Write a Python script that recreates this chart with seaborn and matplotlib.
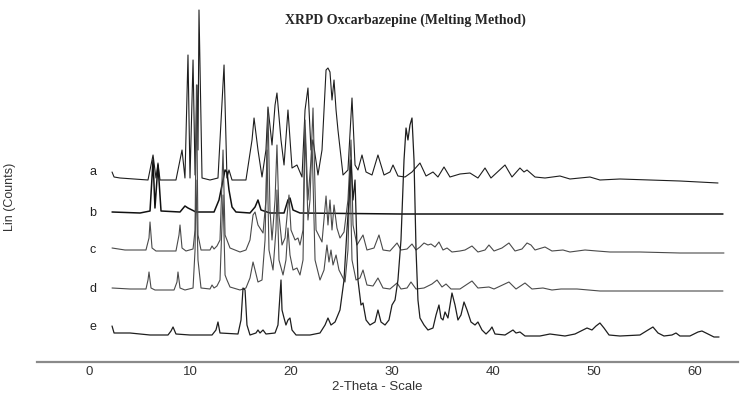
import pandas as pd
import matplotlib.pyplot as plt
import seaborn as sns

OUT_FILE = "out.png"

TITLE = "XRPD Oxcarbazepine (Melting Method)"
X_LABEL = "2-Theta - Scale"
Y_LABEL = "Lin (Counts)"
X_TICKS = [0, 10, 20, 30, 40, 50, 60]
TRACE_NAMES = ["a", "b", "c", "d", "e"]

# (2-theta, stacked counts) vertices, one pair of lists per trace
A_THETA = [2.28, 2.48, 3.07, 5.84, 6.34, 6.63, 6.83, 7.03, 8.61, 9.21, 9.50, 9.80, 10.00, 10.30,
           10.50, 10.69, 10.79, 10.89, 11.19, 11.98, 12.77, 13.37, 13.66, 13.86, 14.16, 15.54,
           16.14, 16.34, 16.73, 17.13, 17.52, 17.72, 18.12, 18.42, 18.61, 19.01, 19.31, 19.70,
           20.10, 20.59, 21.09, 21.39, 21.68, 21.98, 22.18, 22.67, 23.07, 23.47, 23.66, 23.86,
           24.06, 24.26, 24.46, 24.65, 25.15, 25.64, 26.04, 26.34, 26.63, 27.03, 27.43, 28.02,
           28.61, 29.21, 29.80, 30.10, 30.59, 31.29, 31.98, 32.77, 33.37, 34.06, 34.55, 35.15,
           35.74, 36.73, 37.72, 38.51, 39.21, 39.80, 41.19, 41.88, 42.67, 43.07, 43.37, 44.16,
           45.15, 46.63, 47.62, 49.60, 50.59, 52.57, 55.54, 58.51, 62.28]
A_COUNTS = [190, 185, 184, 182, 207, 184, 199, 182, 182, 212, 184, 307, 184, 302,
            187, 277, 212, 352, 184, 182, 184, 297, 184, 192, 182, 182,
            222, 244, 212, 185, 212, 255, 217, 257, 269, 222, 197, 252,
            194, 197, 185, 252, 274, 212, 222, 187, 212, 292, 294, 290,
            262, 282, 252, 232, 187, 192, 264, 197, 192, 207, 190, 187,
            207, 187, 190, 197, 186, 185, 190, 199, 186, 190, 185, 195,
            185, 188, 189, 184, 194, 184, 197, 185, 194, 190, 192, 185,
            184, 186, 183, 185, 182, 183, 182, 181, 179]

B_THETA = [2.28, 5.05, 6.04, 6.34, 6.53, 6.83, 7.13, 9.01, 9.50, 9.80, 10.59, 12.38, 12.87,
           13.17, 13.47, 13.66, 13.86, 14.16, 14.55, 15.94, 16.44, 16.73, 17.03, 17.92,
           19.31, 19.70, 19.90, 20.20, 20.89, 30.79, 40.69, 50.59, 62.77]
B_COUNTS = [150, 149, 151, 202, 154, 197, 151, 150, 156, 154, 150, 150, 162,
            177, 192, 190, 172, 155, 150, 149, 155, 162, 152, 149,
            149, 162, 164, 152, 149, 148, 148, 148, 148]

C_THETA = [2.28, 3.56, 5.64, 5.94, 6.04, 6.24, 6.63, 8.61, 8.91, 9.01, 9.21, 9.60, 10.30,
           10.50, 10.64, 10.79, 11.09, 11.98, 12.18, 12.38, 12.67, 12.97, 13.27, 13.47,
           13.66, 13.96, 14.95, 15.54, 15.94, 16.24, 16.44, 16.73, 17.23, 17.52, 17.72,
           17.92, 18.12, 18.42, 18.61, 18.81, 19.11, 19.41, 19.80, 20.00, 20.40, 20.69,
           20.89, 21.19, 21.39, 21.68, 21.98, 22.18, 22.48, 23.07, 23.47, 23.66, 23.86,
           24.06, 24.26, 24.55, 24.85, 25.25, 25.64, 25.94, 26.14, 26.53, 26.83, 27.13,
           27.52, 28.22, 28.71, 29.11, 29.80, 30.50, 30.89, 31.49, 31.98, 32.38, 32.77,
           33.17, 33.56, 33.86, 34.26, 34.65, 35.05, 35.45, 35.94, 36.73, 37.23, 37.92,
           38.51, 39.21, 39.60, 40.10, 40.89, 41.58, 42.18, 42.87, 43.37, 43.76, 44.16,
           45.15, 45.84, 46.93, 47.62, 49.11, 50.30, 51.58, 54.55, 58.51, 62.87]
C_COUNTS = [114, 112, 112, 124, 140, 114, 111, 111, 127, 137, 114, 111, 113,
            132, 277, 127, 112, 112, 116, 113, 116, 122, 212, 127,
            122, 114, 110, 112, 122, 147, 150, 137, 129, 162, 252,
            152, 122, 162, 217, 147, 117, 124, 167, 132, 122, 124,
            117, 132, 242, 162, 202, 254, 132, 120, 166, 137, 162,
            132, 157, 134, 124, 130, 162, 222, 137, 117, 122, 127,
            112, 114, 127, 112, 111, 119, 112, 113, 118, 112, 115,
            119, 117, 118, 115, 120, 112, 114, 110, 111, 112, 116,
            110, 112, 117, 111, 114, 119, 111, 113, 119, 117, 112,
            115, 111, 112, 110, 112, 111, 110, 110, 109, 109]

D_THETA = [2.28, 4.06, 5.64, 5.84, 5.94, 6.14, 6.53, 8.42, 8.71, 8.81, 9.01, 9.50, 10.30,
           10.50, 10.59, 10.79, 11.09, 11.98, 12.18, 12.38, 12.67, 12.97, 13.27, 13.47,
           13.66, 13.96, 14.95, 15.54, 15.94, 16.24, 16.44, 16.73, 17.13, 17.43, 17.62,
           17.82, 18.22, 18.51, 18.61, 18.81, 19.21, 19.50, 19.70, 19.90, 20.20, 20.59,
           20.89, 21.19, 21.39, 21.68, 21.88, 22.08, 22.38, 22.87, 23.27, 23.56, 23.76,
           23.96, 24.16, 24.46, 24.75, 25.35, 25.64, 25.84, 26.04, 26.44, 26.83, 27.13,
           27.52, 28.12, 28.61, 29.11, 29.80, 30.50, 30.89, 31.49, 31.88, 32.38, 33.17,
           33.96, 34.46, 34.95, 35.35, 35.84, 36.73, 37.92, 38.51, 39.60, 40.10, 41.58,
           42.28, 43.17, 43.86, 44.95, 45.84, 46.73, 48.32, 50.59, 55.54, 62.77]
D_COUNTS = [74, 73, 73, 82, 90, 74, 72, 72, 80, 90, 74, 72, 74,
            112, 182, 102, 74, 73, 77, 74, 76, 82, 167, 87,
            82, 75, 72, 74, 84, 100, 92, 80, 82, 122, 212,
            112, 92, 132, 172, 102, 87, 102, 134, 107, 92, 94,
            87, 102, 232, 142, 162, 222, 102, 82, 92, 117, 100,
            112, 97, 107, 92, 80, 112, 192, 102, 82, 84, 92,
            77, 76, 84, 74, 73, 79, 73, 74, 80, 73, 74,
            78, 82, 75, 78, 73, 73, 81, 74, 75, 73, 80,
            73, 79, 73, 74, 72, 73, 73, 71, 71, 71]

E_THETA = [2.28, 2.48, 4.06, 6.04, 7.82, 8.12, 8.32, 8.61, 10.00, 12.18, 12.57, 12.77, 12.97,
           14.75, 15.05, 15.25, 15.45, 15.64, 15.94, 16.53, 16.73, 16.93, 17.23, 17.52,
           18.42, 18.71, 18.91, 19.01, 19.11, 19.31, 19.50, 19.70, 19.90, 20.10, 20.50,
           21.88, 22.87, 23.37, 23.66, 23.96, 24.36, 24.85, 25.25, 25.54, 25.74, 25.94,
           26.14, 26.34, 26.63, 26.93, 27.13, 27.43, 27.82, 28.32, 28.61, 28.91, 29.31,
           29.70, 30.00, 30.30, 30.59, 30.89, 31.19, 31.39, 31.58, 31.78, 31.98, 32.18,
           32.38, 32.57, 32.77, 33.17, 33.56, 34.06, 34.36, 34.65, 34.85, 35.05, 35.25,
           35.54, 35.94, 36.24, 36.53, 36.83, 37.13, 37.43, 37.82, 38.22, 38.51, 38.91,
           39.31, 39.70, 39.90, 40.20, 41.19, 41.98, 42.28, 42.67, 43.17, 44.65, 45.64,
           47.13, 48.12, 48.91, 49.31, 49.80, 50.20, 50.59, 50.99, 51.49, 52.57, 54.55,
           55.35, 55.84, 56.34, 56.93, 57.72, 58.12, 58.51, 59.50, 60.30, 60.69, 61.29,
           61.88, 62.38]
E_COUNTS = [36, 29, 29, 27, 27, 31, 35, 28, 27, 27, 32, 40, 29,
            28, 42, 74, 72, 37, 27, 29, 32, 29, 32, 28,
            29, 37, 67, 82, 52, 44, 37, 42, 44, 32, 27,
            27, 29, 37, 44, 37, 40, 52, 82, 132, 162, 202,
            162, 182, 82, 57, 59, 42, 37, 40, 52, 40, 37,
            42, 57, 62, 82, 122, 202, 234, 222, 237, 244, 202,
            112, 62, 44, 37, 32, 34, 47, 57, 44, 42, 50,
            44, 69, 57, 42, 47, 60, 52, 40, 37, 40, 32,
            28, 32, 35, 28, 27, 32, 29, 30, 26, 26, 28,
            26, 28, 32, 34, 32, 36, 39, 34, 27, 26, 27,
            32, 35, 29, 26, 27, 29, 26, 26, 30, 31, 28,
            25, 25]

LABEL_COUNTS = [190, 149, 112, 73, 35]
TRACE_COLORS = ["#1e1e1e", "#111111", "#4a4a4a", "#4a4a4a", "#1e1e1e"]
TRACE_WIDTHS = [0.8, 1.1, 0.8, 0.8, 0.9]


def montar_dados():
    thetas = [A_THETA, B_THETA, C_THETA, D_THETA, E_THETA]
    counts = [A_COUNTS, B_COUNTS, C_COUNTS, D_COUNTS, E_COUNTS]
    partes = []
    for nome, th, ct in zip(TRACE_NAMES, thetas, counts):
        partes.append(pd.DataFrame({"theta": th, "counts": ct, "amostra": nome}))
    return pd.concat(partes, ignore_index=True)


def main():
    df = montar_dados()

    sns.set_theme(style="white")
    plt.rcParams["font.family"] = ["Liberation Sans", "DejaVu Sans"]

    fig = plt.figure(figsize=(7.41, 3.93), dpi=100)
    ax = fig.add_axes([37 / 741, 31 / 393, 701 / 741, 362 / 393])

    for nome, cor, lw in zip(TRACE_NAMES, TRACE_COLORS, TRACE_WIDTHS):
        sns.lineplot(data=df[df["amostra"] == nome], x="theta", y="counts",
                     sort=False, estimator=None, color=cor, linewidth=lw, ax=ax)

    for nome, y in zip(TRACE_NAMES, LABEL_COUNTS):
        ax.text(0.4, y, nome, ha="center", va="center", fontsize=9, color="#222222")

    ax.set_xlim(-5.15, 64.26)
    ax.set_ylim(0, 362)
    ax.set_xticks(X_TICKS)
    ax.set_yticks([])
    ax.set_xlabel("")
    ax.set_ylabel("")
    ax.tick_params(axis="x", length=0, pad=3, labelsize=9.5, labelcolor="#333333")
    for lado in ["top", "left", "right"]:
        ax.spines[lado].set_visible(False)
    ax.spines["bottom"].set_color("#8a8a8a")
    ax.spines["bottom"].set_linewidth(1.6)
    ax.patch.set_alpha(0)

    fig.text(405 / 741, 1 - 20 / 393, TITLE, ha="center", va="center",
             fontsize=10, fontweight="bold", family=["Liberation Serif", "DejaVu Serif"])
    fig.text(377 / 741, 1 - 387 / 393, X_LABEL, ha="center", va="center",
             fontsize=9.5, color="#333333")
    fig.text(10 / 741, 1 - 197 / 393, Y_LABEL, ha="center", va="center",
             rotation=90, fontsize=9, color="#333333")

    fig.savefig(OUT_FILE, dpi=100)
    plt.close(fig)


if __name__ == "__main__":
    main()
